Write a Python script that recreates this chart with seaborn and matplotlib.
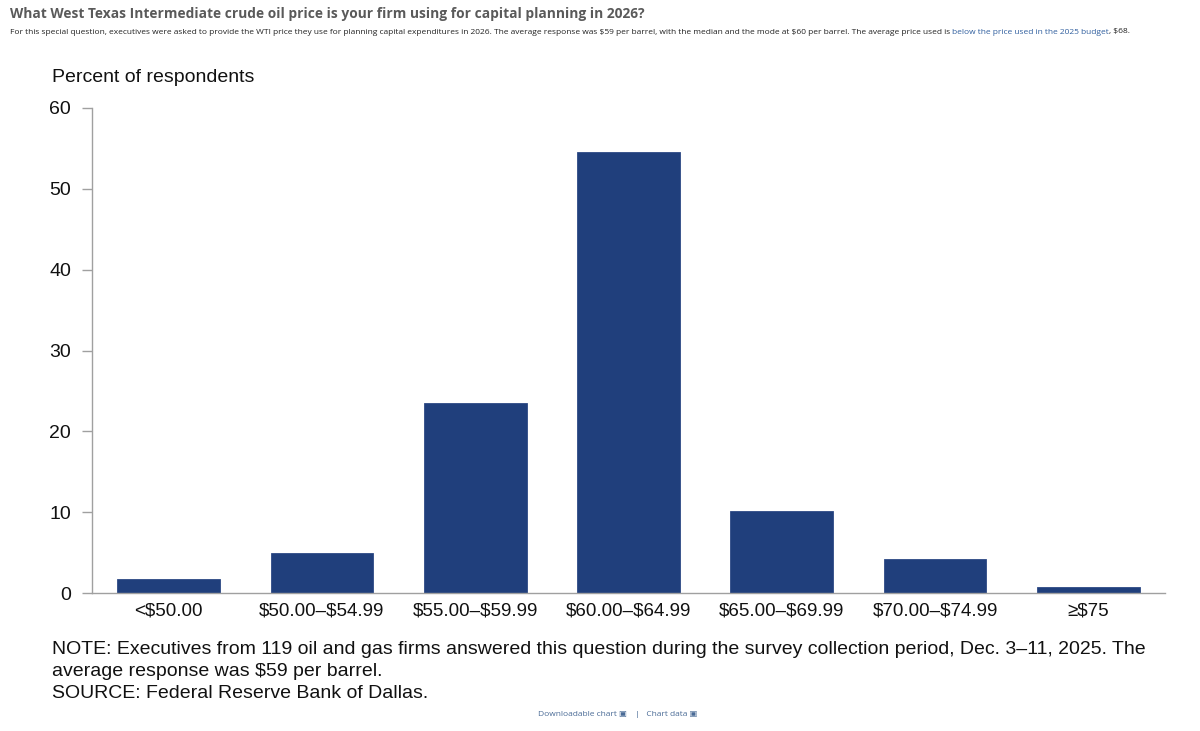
import pandas as pd
import seaborn as sns
import matplotlib.pyplot as plt
from matplotlib.ticker import FixedLocator

# Chart data (percent of respondents, 119 firms)
price_bins = ['<$50.00', '$50.00–$54.99', '$55.00–$59.99', '$60.00–$64.99',
              '$65.00–$69.99', '$70.00–$74.99', '≥$75']
pct_respondents = [1.7, 5.0, 23.5, 54.6, 10.1, 4.2, 0.8]
y_ticks = [0, 10, 20, 30, 40, 50, 60]

title = 'What West Texas Intermediate crude oil price is your firm using for capital planning in 2026?'
subtitle = ('For this special question, executives were asked to provide the WTI price they use for planning '
            'capital expenditures in 2026. The average response was $59 per barrel, with the median and the '
            'mode at $60 per barrel. The average price used is ')
subtitle_link = 'below the price used in the 2025 budget'
subtitle_end = ', $68.'
note_lines = ['NOTE: Executives from 119 oil and gas firms answered this question during the survey collection period, Dec. 3–11, 2025. The',
              'average response was $59 per barrel.',
              'SOURCE: Federal Reserve Bank of Dallas.']

df = pd.DataFrame({'bin': price_bins, 'pct': pct_respondents})

sns.set_style('white')
plt.rcParams['font.family'] = ['Liberation Sans', 'DejaVu Sans']
plt.rcParams['text.parse_math'] = False

fig = plt.figure(figsize=(12, 7.31), dpi=100)
ax = fig.add_axes([92 / 1200, 1 - 593 / 731, (1165 - 92) / 1200, (593 - 108) / 731])

sns.barplot(data=df, x='bin', y='pct', color='#203f7c', width=0.67, saturation=1,
            edgecolor='#2d4a86', linewidth=0.6, ax=ax)

ax.set_xlim(-0.5, len(price_bins) - 0.5)
ax.set_ylim(0, 60)
ax.set_yticks(y_ticks)
ax.set_xlabel('')
ax.set_ylabel('')
ax.xaxis.set_minor_locator(FixedLocator([i - 0.5 for i in range(len(price_bins) + 1)]))
ax.tick_params(axis='x', which='major', length=0, pad=7, labelsize=13.5, labelcolor='#111111')
ax.tick_params(axis='x', which='minor', length=7, width=1, color='#a0a0a0', direction='out')
ax.tick_params(axis='y', length=7, width=1, color='#a0a0a0', direction='out', pad=8,
               labelsize=14, labelcolor='#111111', left=True)
for side in ['top', 'right']:
    ax.spines[side].set_visible(False)
for side in ['left', 'bottom']:
    ax.spines[side].set_color('#a0a0a0')
    ax.spines[side].set_linewidth(1)

fig.text(52 / 1200, 1 - 78 / 731, 'Percent of respondents', fontsize=14, va='center', color='#111111')

# header
hdr_font = ['Open Sans', 'DejaVu Sans']
fig.text(10 / 1200, 1 - 14 / 731, title, fontsize=9.9, fontweight='bold', color='#5a5a5a',
         family=hdr_font, va='center')
t1 = fig.text(10 / 1200, 1 - 32 / 731, subtitle, fontsize=6.05, color='#222222',
              family=hdr_font, va='center')
t2 = ax.annotate(subtitle_link, xy=(1, 0), xycoords=t1, va='bottom', ha='left', fontsize=6.05,
                 color='#2f5e9e', family=hdr_font, annotation_clip=False)
ax.annotate(subtitle_end, xy=(1, 0.5), xycoords=(t2, t1), va='center', ha='left', fontsize=6.05,
            color='#222222', family=hdr_font, annotation_clip=False)

# note and source
for i, line in enumerate(note_lines):
    fig.text(52 / 1200, 1 - (649 + i * 22) / 731, line, fontsize=14, va='center', color='#111111')

fig.text(618 / 1200, 1 - 715 / 731, 'Downloadable chart ▣    |   Chart data ▣', fontsize=6, ha='center',
         va='center', color='#4a6b96', family=hdr_font)

plt.savefig('out.png', dpi=100)
